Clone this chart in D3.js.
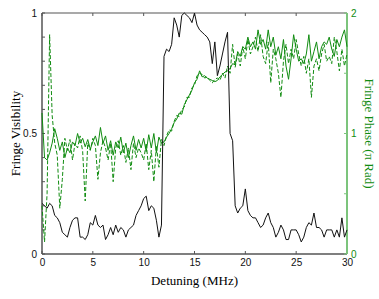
<!DOCTYPE html>
<html>
<head>
<meta charset="utf-8">
<script src="https://cdn.jsdelivr.net/npm/d3@7"></script>
<style>
  body { margin: 0; background: #fff; }
</style>
</head>
<body>
<div id="chart"></div>
<script>
const width = 379, height = 299;
const margin = { top: 13, right: 32, bottom: 45, left: 42 };

// detuning step of the scan (MHz), points start at 0
const step = 0.25;

// fringe visibility (left axis)
const visibility = [
  0.21,0.20,0.19,0.21,0.20,0.16,0.15,0.13,
  0.09,0.08,0.07,0.11,0.14,0.15,0.15,0.07,
  0.07,0.06,0.08,0.13,0.12,0.16,0.12,0.11,
  0.12,0.06,0.08,0.11,0.08,0.12,0.09,0.11,
  0.10,0.07,0.10,0.11,0.12,0.16,0.18,0.20,
  0.23,0.24,0.18,0.20,0.19,0.14,0.07,0.12,
  0.82,0.85,0.84,0.87,0.98,0.95,0.90,0.99,
  1.00,0.99,0.98,0.96,1.00,0.95,0.93,0.92,
  0.91,0.90,0.88,0.79,0.88,0.74,0.78,0.83,
  0.88,0.92,0.50,0.47,0.20,0.17,0.19,0.20,
  0.27,0.18,0.16,0.15,0.15,0.13,0.11,0.12,
  0.15,0.17,0.13,0.11,0.07,0.09,0.12,0.10,
  0.06,0.06,0.10,0.10,0.10,0.08,0.05,0.07,
  0.11,0.13,0.12,0.17,0.11,0.11,0.10,0.07,
  0.10,0.10,0.10,0.07,0.10,0.07,0.15,0.07,
  0.10
];

// fringe phase, solid (right axis, units of pi rad)
const phaseA = [
  1.17,0.80,0.78,0.84,0.92,1.04,0.96,0.86,
  0.93,0.80,0.88,0.84,0.93,0.90,1.00,0.92,
  0.96,0.89,0.95,0.87,0.93,0.98,0.90,1.05,
  0.92,0.98,0.86,0.94,0.82,0.93,0.88,0.97,
  0.84,0.92,0.80,0.90,0.98,0.86,0.95,0.88,
  0.96,0.85,0.99,0.88,1.00,0.84,0.97,0.92,
  0.93,0.97,1.00,1.04,1.09,1.12,1.17,1.16,
  1.24,1.28,1.32,1.36,1.42,1.45,1.52,1.47,
  1.48,1.46,1.45,1.44,1.43,1.44,1.47,1.49,
  1.51,1.52,1.54,1.58,1.57,1.68,1.64,1.72,
  1.70,1.80,1.72,1.76,1.70,1.86,1.74,1.78,
  1.70,1.86,1.72,1.80,1.65,1.72,1.62,1.78,
  1.56,1.45,1.62,1.82,1.70,1.60,1.62,1.58,
  1.66,1.82,1.60,1.68,1.76,1.62,1.72,1.76,
  1.74,1.80,1.70,1.64,1.78,1.72,1.80,1.86,
  1.72
];

// fringe phase, dashed
const phaseB = [
  0.40,0.10,0.50,1.82,1.15,0.92,0.82,0.38,
  0.62,0.96,0.86,0.95,0.78,0.92,0.88,0.98,
  0.85,0.44,0.92,0.86,0.96,0.90,0.62,0.84,
  0.94,0.88,0.78,0.92,0.60,0.88,0.94,0.82,
  0.90,0.76,0.88,0.70,0.92,0.80,0.88,0.84,
  0.78,0.92,0.70,0.86,0.60,0.90,0.72,0.95,
  0.90,0.98,1.03,1.02,1.10,1.15,1.14,1.20,
  1.22,1.30,1.30,1.38,1.40,1.48,1.50,1.49,
  1.46,1.47,1.44,1.42,1.45,1.46,1.44,1.50,
  1.46,1.56,1.50,1.74,1.55,1.66,1.56,1.72,
  1.62,1.78,1.66,1.72,1.80,1.68,1.82,1.64,
  1.58,1.76,1.42,1.70,1.62,1.50,1.30,1.60,
  1.74,1.58,1.70,1.62,1.78,1.66,1.56,1.64,
  1.50,1.62,1.30,1.56,1.62,1.52,1.66,1.74,
  1.60,1.64,1.58,1.80,1.68,1.52,1.70,1.56,
  1.66
];

const xTicks = [0, 5, 10, 15, 20, 25, 30];
const leftTicks = [0, 0.5, 1];
const rightTicks = [0, 1, 2];

const green = "#118c11";
const axisGrey = "#555";
const sans = "'Liberation Sans', Arial, sans-serif";
const serif = "'Liberation Serif', 'Times New Roman', serif";

const svg = d3.select("#chart")
    .append("svg")
    .attr("width", width)
    .attr("height", height);

const x = d3.scaleLinear().domain([0, 30]).range([margin.left, width - margin.right]);
const yL = d3.scaleLinear().domain([0, 1]).range([height - margin.bottom, margin.top]);
const yR = d3.scaleLinear().domain([0, 2]).range([height - margin.bottom, margin.top]);

const x0 = x(0), x1 = x(30), yb = yL(0), yt = yL(1);

// frame: top and bottom
svg.append("line").attr("x1", x0).attr("x2", x1).attr("y1", yt).attr("y2", yt)
    .attr("stroke", axisGrey).attr("stroke-width", 1.2);
svg.append("line").attr("x1", x0).attr("x2", x1).attr("y1", yb).attr("y2", yb)
    .attr("stroke", axisGrey).attr("stroke-width", 1.5);

// ticks on bottom and top (inward)
xTicks.forEach(t => {
    svg.append("line").attr("x1", x(t)).attr("x2", x(t)).attr("y1", yb).attr("y2", yb - 3)
        .attr("stroke", axisGrey);
    svg.append("line").attr("x1", x(t)).attr("x2", x(t)).attr("y1", yt).attr("y2", yt + 3)
        .attr("stroke", axisGrey);
});

// bottom axis labels through d3 axis (no domain/tick lines)
const gx = svg.append("g")
    .attr("transform", `translate(0,${yb})`)
    .call(d3.axisBottom(x).tickValues(xTicks).tickSize(0).tickPadding(5).tickFormat(d3.format("d")));
gx.select(".domain").remove();
gx.selectAll("text").attr("font-size", 10).style("font-family", sans).attr("fill", "#111");

// left axis
svg.append("line").attr("x1", x0).attr("x2", x0).attr("y1", yt).attr("y2", yb)
    .attr("stroke", axisGrey).attr("stroke-width", 1.5);
d3.range(0, 1.0001, 0.1).forEach(t => {
    svg.append("line").attr("x1", x0).attr("x2", x0 + 3).attr("y1", yL(t)).attr("y2", yL(t))
        .attr("stroke", axisGrey);
});
const gl = svg.append("g")
    .attr("transform", `translate(${x0},0)`)
    .call(d3.axisLeft(yL).tickValues(leftTicks).tickSize(0).tickPadding(5).tickFormat(d => d));
gl.select(".domain").remove();
gl.selectAll("text").attr("font-size", 10).style("font-family", sans).attr("fill", "#111");

// right axis (phase)
svg.append("line").attr("x1", x1).attr("x2", x1).attr("y1", yt).attr("y2", yb)
    .attr("stroke", "#7cc47c").attr("stroke-width", 2);
d3.range(0, 2.0001, 0.5).forEach(t => {
    svg.append("line").attr("x1", x1).attr("x2", x1 - 3).attr("y1", yR(t)).attr("y2", yR(t))
        .attr("stroke", "#7cc47c");
});
const gr = svg.append("g")
    .attr("transform", `translate(${x1},0)`)
    .call(d3.axisRight(yR).tickValues(rightTicks).tickSize(0).tickPadding(4).tickFormat(d3.format("d")));
gr.select(".domain").remove();
gr.selectAll("text").attr("font-size", 10).style("font-family", sans).attr("fill", green);

// data lines
const lineL = d3.line().x((d, i) => x(i * step)).y(d => yL(d));
const lineR = d3.line().x((d, i) => x(i * step)).y(d => yR(d));

svg.append("path").datum(phaseB)
    .attr("d", lineR).attr("fill", "none")
    .attr("stroke", green).attr("stroke-width", 1).attr("stroke-dasharray", "4,2");
svg.append("path").datum(phaseA)
    .attr("d", lineR).attr("fill", "none")
    .attr("stroke", green).attr("stroke-width", 1);
svg.append("path").datum(visibility)
    .attr("d", lineL).attr("fill", "none")
    .attr("stroke", "#111").attr("stroke-width", 1);

// axis titles
svg.append("text")
    .attr("x", (x0 + x1) / 2).attr("y", 285)
    .attr("text-anchor", "middle")
    .style("font-family", serif)
    .attr("font-size", 13)
    .text("Detuning (MHz)");

svg.append("text")
    .attr("transform", `translate(20,${(yt + yb) / 2}) rotate(-90)`)
    .attr("text-anchor", "middle")
    .style("font-family", serif)
    .attr("font-size", 13)
    .text("Fringe Visibility");

svg.append("text")
    .attr("transform", `translate(365,${(yt + yb) / 2}) rotate(90)`)
    .attr("text-anchor", "middle")
    .style("font-family", serif)
    .attr("font-size", 13)
    .attr("fill", green)
    .text("Fringe Phase (π Rad)");
</script>
</body>
</html>
